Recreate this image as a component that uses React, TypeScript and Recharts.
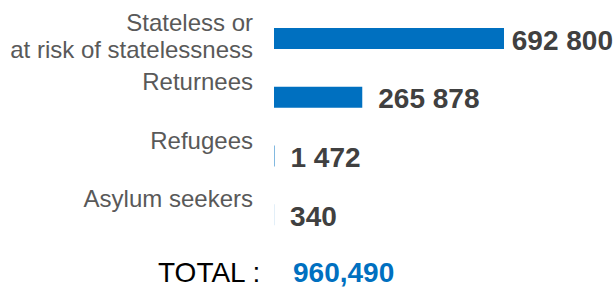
import React from 'react';
import { BarChart, Bar, XAxis, YAxis, LabelList } from 'recharts';

const categories = ['Stateless or\nat risk of statelessness', 'Returnees', 'Refugees', 'Asylum seekers'];
const values = [692800, 265878, 1472, 340];
const valueLabels = ['692 800', '265 878', '1 472', '340'];
const totalLabel = 'TOTAL :';

const BLUE = '#0070C0';
const FONT = '"Liberation Sans", Arial, sans-serif';

const data = categories.map((c, i) => ({ name: c, value: values[i], label: valueLabels[i] }));
const total = values.reduce((a, b) => a + b, 0);

const W = 616;
const H = 288;

const CategoryTick = (props: any) => {
  const { x, y, payload } = props;
  const lines = String(payload.value).split('\n');
  return (
    <text x={x} y={y - 7.2} textAnchor="end" fill="#595959" fontSize={24} fontFamily={FONT}>
      {lines.map((l, i) => (
        <tspan key={i} x={x} dy={i === 0 ? 0 : 27.3}>{l}</tspan>
      ))}
    </text>
  );
};

const ValueLabel = (props: any) => {
  const { x, y, width, height, index } = props;
  const text = valueLabels[index];
  const fs = 28;
  let est = 0;
  for (const ch of text) est += ch === ' ' ? 0.278 * fs : 0.556 * fs;
  let tx = x + width + 16;
  let anchor: 'start' | 'end' = 'start';
  if (tx + est > W - 3) {
    tx = W - 3;
    anchor = 'end';
  }
  const cy = y + height / 2;
  return (
    <text x={tx} y={cy + 11} textAnchor={anchor} fill="#404040" fontSize={fs} fontWeight="bold" fontFamily={FONT}>
      {text}
    </text>
  );
};

export default function App() {
  return (
    <div style={{ position: 'absolute', left: 0, top: 0, width: W, height: H, background: '#fff' }}>
      <BarChart width={W} height={H} data={data} layout="vertical" margin={{ top: 9, right: 112, bottom: 44, left: 0 }}>
        <XAxis type="number" hide domain={[0, 'dataMax']} />
        <YAxis
          type="category"
          dataKey="name"
          width={274}
          axisLine={false}
          tickLine={false}
          tickSize={0}
          tickMargin={21}
          tick={<CategoryTick />}
          interval={0}
        />
        <Bar dataKey="value" fill={BLUE} barSize={21} isAnimationActive={false}>
          <LabelList dataKey="value" content={<ValueLabel />} />
        </Bar>
      </BarChart>
      <svg width={W} height={H} style={{ position: 'absolute', left: 0, top: 0, pointerEvents: 'none' }}>
        <text x={158} y={281.7} fill="#000" fontSize={28} fontFamily={FONT}>{totalLabel}</text>
        <text x={293} y={281.7} fill={BLUE} fontSize={28} fontWeight="bold" fontFamily={FONT}>
          {total.toLocaleString('en-US')}
        </text>
      </svg>
    </div>
  );
}
